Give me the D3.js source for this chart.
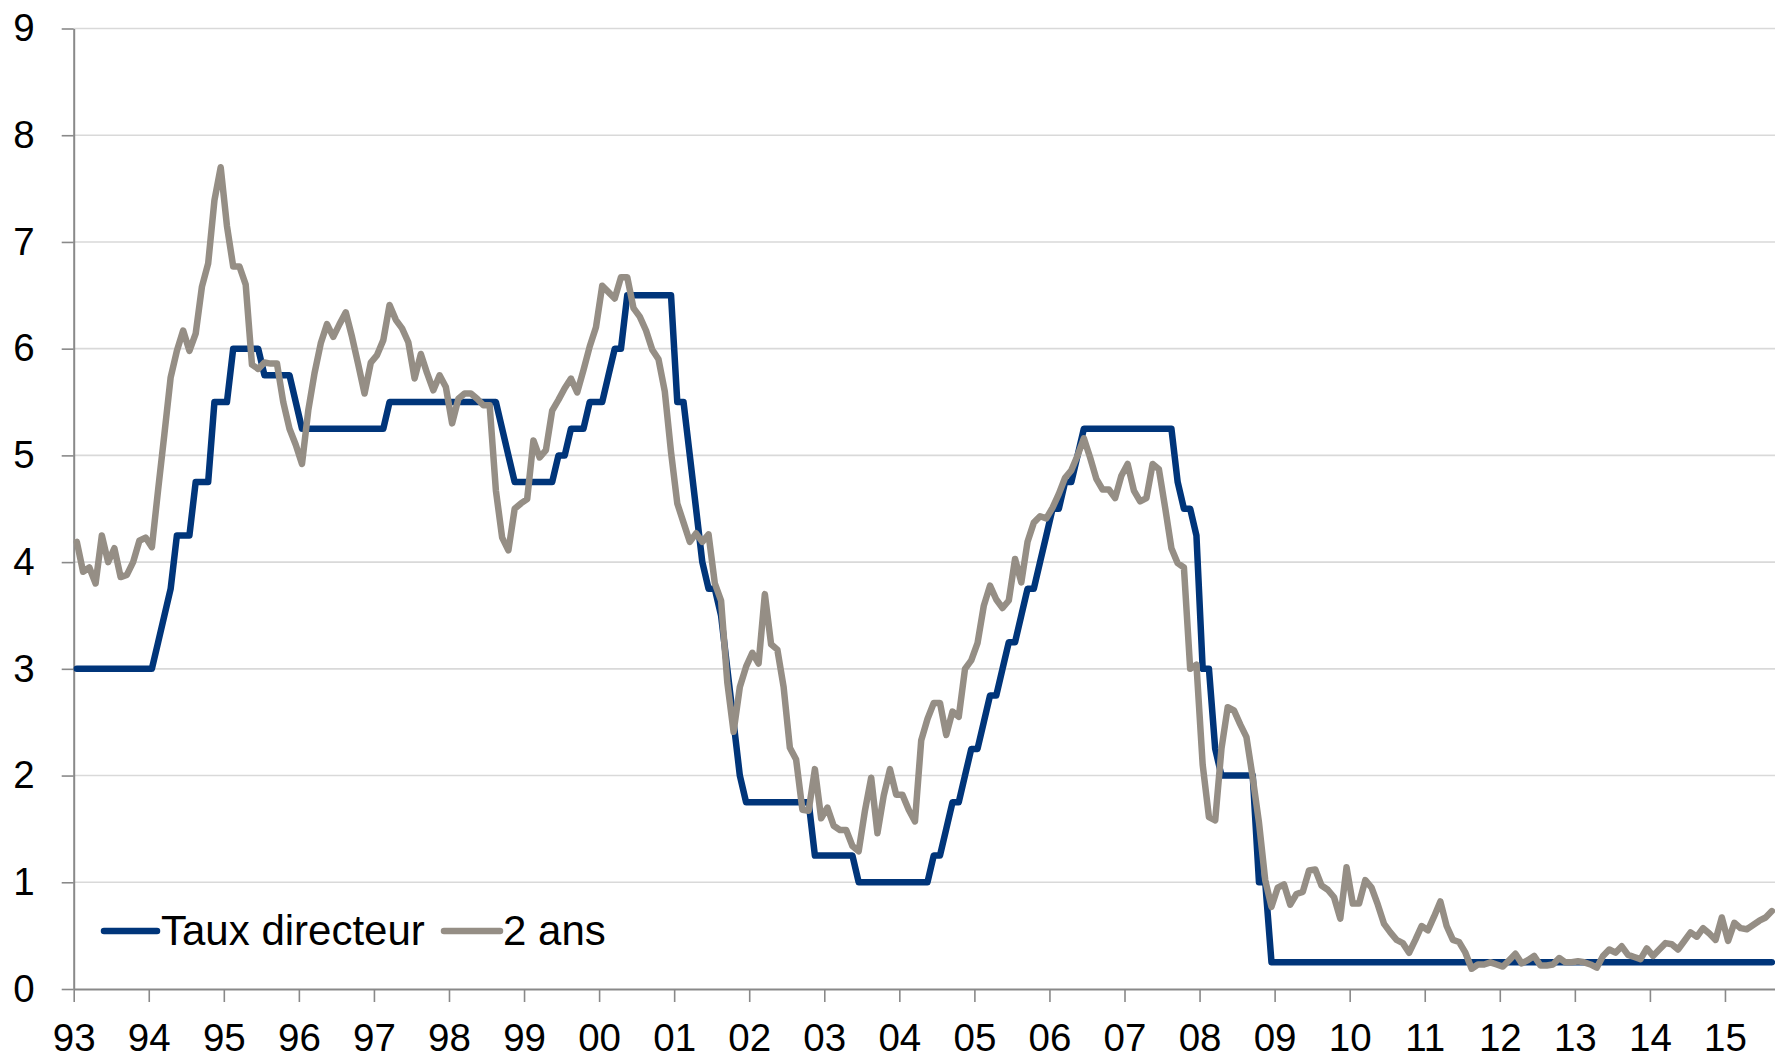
<!DOCTYPE html>
<html>
<head>
<meta charset="utf-8">
<script src="https://cdn.jsdelivr.net/npm/d3@7"></script>
<style>
    body { margin: 0; background: #fff; }
    svg { display: block; }
    .tick text { font-family: "Liberation Sans", Arial, sans-serif; }
</style>
</head>
<body>
<div id="chart"></div>
<script>
// Monthly values, Jan 1993 -> Aug 2015 (one row per year)
const policyRate = [
    3, 3, 3, 3, 3, 3, 3, 3, 3, 3, 3, 3,                                  // 93
    3, 3.25, 3.5, 3.75, 4.25, 4.25, 4.25, 4.75, 4.75, 4.75, 5.5, 5.5,    // 94
    5.5, 6, 6, 6, 6, 6, 5.75, 5.75, 5.75, 5.75, 5.75, 5.5,               // 95
    5.25, 5.25, 5.25, 5.25, 5.25, 5.25, 5.25, 5.25, 5.25, 5.25, 5.25, 5.25, // 96
    5.25, 5.25, 5.5, 5.5, 5.5, 5.5, 5.5, 5.5, 5.5, 5.5, 5.5, 5.5,        // 97
    5.5, 5.5, 5.5, 5.5, 5.5, 5.5, 5.5, 5.5, 5.25, 5, 4.75, 4.75,         // 98
    4.75, 4.75, 4.75, 4.75, 4.75, 5, 5, 5.25, 5.25, 5.25, 5.5, 5.5,      // 99
    5.5, 5.75, 6, 6, 6.5, 6.5, 6.5, 6.5, 6.5, 6.5, 6.5, 6.5,             // 00
    5.5, 5.5, 5, 4.5, 4, 3.75, 3.75, 3.5, 3, 2.5, 2, 1.75,               // 01
    1.75, 1.75, 1.75, 1.75, 1.75, 1.75, 1.75, 1.75, 1.75, 1.75, 1.25, 1.25, // 02
    1.25, 1.25, 1.25, 1.25, 1.25, 1, 1, 1, 1, 1, 1, 1,                   // 03
    1, 1, 1, 1, 1, 1.25, 1.25, 1.5, 1.75, 1.75, 2, 2.25,                 // 04
    2.25, 2.5, 2.75, 2.75, 3, 3.25, 3.25, 3.5, 3.75, 3.75, 4, 4.25,      // 05
    4.5, 4.5, 4.75, 4.75, 5, 5.25, 5.25, 5.25, 5.25, 5.25, 5.25, 5.25,   // 06
    5.25, 5.25, 5.25, 5.25, 5.25, 5.25, 5.25, 5.25, 4.75, 4.5, 4.5, 4.25, // 07
    3, 3, 2.25, 2, 2, 2, 2, 2, 2, 1, 1, 0.25,                            // 08
    0.25, 0.25, 0.25, 0.25, 0.25, 0.25, 0.25, 0.25, 0.25, 0.25, 0.25, 0.25, // 09
    0.25, 0.25, 0.25, 0.25, 0.25, 0.25, 0.25, 0.25, 0.25, 0.25, 0.25, 0.25, // 10
    0.25, 0.25, 0.25, 0.25, 0.25, 0.25, 0.25, 0.25, 0.25, 0.25, 0.25, 0.25, // 11
    0.25, 0.25, 0.25, 0.25, 0.25, 0.25, 0.25, 0.25, 0.25, 0.25, 0.25, 0.25, // 12
    0.25, 0.25, 0.25, 0.25, 0.25, 0.25, 0.25, 0.25, 0.25, 0.25, 0.25, 0.25, // 13
    0.25, 0.25, 0.25, 0.25, 0.25, 0.25, 0.25, 0.25, 0.25, 0.25, 0.25, 0.25, // 14
    0.25, 0.25, 0.25, 0.25, 0.25, 0.25, 0.25, 0.25                       // 15
];

const twoYear = [
    4.19, 3.91, 3.95, 3.80, 4.25, 4.00, 4.13, 3.86, 3.88, 4.00, 4.20, 4.23, // 93
    4.14, 4.68, 5.20, 5.73, 5.98, 6.17, 5.98, 6.14, 6.58, 6.80, 7.39, 7.70, // 94
    7.15, 6.77, 6.77, 6.60, 5.85, 5.81, 5.87, 5.86, 5.86, 5.50, 5.25, 5.10, // 95
    4.92, 5.42, 5.77, 6.05, 6.23, 6.11, 6.23, 6.34, 6.11, 5.85, 5.58, 5.87, // 96
    5.94, 6.08, 6.41, 6.27, 6.19, 6.06, 5.72, 5.95, 5.77, 5.61, 5.75, 5.64, // 97
    5.30, 5.53, 5.58, 5.58, 5.53, 5.47, 5.47, 4.67, 4.23, 4.11, 4.50, 4.55, // 98
    4.59, 5.14, 4.98, 5.05, 5.42, 5.52, 5.63, 5.72, 5.59, 5.80, 6.02, 6.20, // 99
    6.59, 6.53, 6.47, 6.67, 6.67, 6.38, 6.30, 6.17, 5.99, 5.90, 5.60, 5.03, // 00
    4.55, 4.37, 4.19, 4.27, 4.19, 4.26, 3.80, 3.64, 2.87, 2.41, 2.83, 3.02, // 01
    3.15, 3.05, 3.70, 3.23, 3.18, 2.83, 2.26, 2.15, 1.68, 1.67, 2.06, 1.60, // 02
    1.70, 1.53, 1.49, 1.49, 1.34, 1.29, 1.67, 1.98, 1.46, 1.81, 2.06, 1.82, // 03
    1.82, 1.68, 1.57, 2.33, 2.53, 2.68, 2.68, 2.38, 2.60, 2.55, 3.00, 3.08, // 04
    3.24, 3.59, 3.78, 3.65, 3.57, 3.64, 4.03, 3.81, 4.19, 4.37, 4.43, 4.41, // 05
    4.51, 4.64, 4.79, 4.86, 5.00, 5.16, 4.98, 4.78, 4.68, 4.68, 4.60, 4.81, // 06
    4.92, 4.67, 4.57, 4.60, 4.92, 4.87, 4.51, 4.13, 3.99, 3.95, 3.00, 3.04, // 07
    2.10, 1.61, 1.58, 2.25, 2.64, 2.61, 2.48, 2.36, 1.98, 1.56, 1.02, 0.77, // 08
    0.95, 0.98, 0.79, 0.89, 0.91, 1.11, 1.12, 0.97, 0.93, 0.86, 0.66, 1.14, // 09
    0.80, 0.80, 1.02, 0.95, 0.79, 0.61, 0.53, 0.46, 0.43, 0.34, 0.46, 0.59, // 10
    0.55, 0.68, 0.82, 0.59, 0.46, 0.44, 0.34, 0.19, 0.23, 0.23, 0.25, 0.23, // 11
    0.21, 0.27, 0.33, 0.24, 0.27, 0.31, 0.22, 0.22, 0.23, 0.29, 0.25, 0.25, // 12
    0.26, 0.25, 0.23, 0.20, 0.31, 0.37, 0.34, 0.40, 0.32, 0.30, 0.28, 0.38, // 13
    0.31, 0.37, 0.43, 0.42, 0.37, 0.45, 0.53, 0.49, 0.57, 0.52, 0.46, 0.67, // 14
    0.45, 0.62, 0.57, 0.56, 0.60, 0.64, 0.67, 0.73                          // 15
];

const yearLabels = ["93", "94", "95", "96", "97", "98", "99", "00", "01", "02", "03", "04",
    "05", "06", "07", "08", "09", "10", "11", "12", "13", "14", "15"];
const yTicks = [0, 1, 2, 3, 4, 5, 6, 7, 8, 9];

const seriesNames = ["Taux directeur", "2 ans"];
const seriesColors = ["#00357a", "#958e85"];

// Layout
const W = 1775, H = 1060;
const plot = { left: 73.7, right: 1775, top: 28.5, bottom: 989 };
const nMonths = 272;

const svg = d3.select("#chart").append("svg")
    .attr("width", W)
    .attr("height", H);

const x = d3.scaleLinear().domain([0, nMonths]).range([plot.left, plot.right]);
const y = d3.scaleLinear().domain([0, 9]).range([plot.bottom, plot.top]);

// Horizontal gridlines
svg.append("g")
    .selectAll("line")
    .data(yTicks.filter(d => d > 0))
    .join("line")
    .attr("x1", plot.left)
    .attr("x2", plot.right)
    .attr("y1", d => y(d))
    .attr("y2", d => y(d))
    .attr("stroke", "#d9d9d9")
    .attr("stroke-width", 1.6);

// Y axis
const yAxis = svg.append("g")
    .attr("transform", `translate(${plot.left},0)`)
    .call(d3.axisLeft(y).tickValues(yTicks).tickSize(12).tickSizeOuter(0).tickPadding(27));

// X axis, one tick per January
const xAxis = svg.append("g")
    .attr("transform", `translate(0,${plot.bottom})`)
    .call(d3.axisBottom(x)
        .tickValues(yearLabels.map((d, i) => i * 12))
        .tickFormat((d, i) => yearLabels[i])
        .tickSize(13).tickSizeOuter(0).tickPadding(22));

[yAxis, xAxis].forEach(ax => {
    ax.select(".domain").attr("stroke", "#898989").attr("stroke-width", 2);
    ax.selectAll(".tick line").attr("stroke", "#898989").attr("stroke-width", 1.6);
    ax.selectAll(".tick text").attr("fill", "#000").attr("font-size", 38.5);
});

// Series lines (points sit in the middle of each month)
const line = d3.line()
    .x((d, i) => x(i + 0.5))
    .y(d => y(d));

[policyRate, twoYear].forEach((values, k) => {
    svg.append("path")
        .datum(values)
        .attr("d", line)
        .attr("fill", "none")
        .attr("stroke", seriesColors[k])
        .attr("stroke-width", 6.5)
        .attr("stroke-linejoin", "round")
        .attr("stroke-linecap", "round");
});

// Legend, bottom left inside the plot
const legendItems = [
    { x0: 104, x1: 157, tx: 161 },
    { x0: 444, x1: 500, tx: 503 }
];
const legend = svg.append("g");
legendItems.forEach((it, k) => {
    legend.append("line")
        .attr("x1", it.x0).attr("x2", it.x1)
        .attr("y1", 931).attr("y2", 931)
        .attr("stroke", seriesColors[k])
        .attr("stroke-width", 6.5)
        .attr("stroke-linecap", "round");
    legend.append("text")
        .attr("x", it.tx)
        .attr("y", 945)
        .attr("font-family", "'Liberation Sans', Arial, sans-serif")
        .attr("font-size", 42)
        .attr("fill", "#000")
        .text(seriesNames[k]);
});
</script>
</body>
</html>
